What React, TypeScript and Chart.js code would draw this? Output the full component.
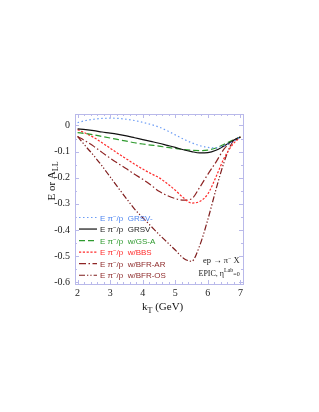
import React, { useEffect, useRef } from "react";
import { Chart, registerables } from "chart.js";
Chart.register(...registerables);

const kT = [2, 2.25, 2.5, 2.75, 3, 3.25, 3.5, 3.75, 4, 4.25, 4.5, 4.75, 5, 5.25, 5.5, 5.75, 6, 6.25, 6.5, 6.75, 7];
const grsvMinus = [0.011, 0.019, 0.024, 0.027, 0.028, 0.027, 0.024, 0.019, 0.012, 0.004, -0.006, -0.02, -0.036, -0.052, -0.066, -0.077, -0.084, -0.086, -0.078, -0.063, -0.044];
const grsv = [-0.013, -0.016, -0.02, -0.025, -0.029, -0.034, -0.04, -0.047, -0.054, -0.061, -0.068, -0.076, -0.084, -0.093, -0.1, -0.105, -0.104, -0.095, -0.078, -0.06, -0.044];
const gsA = [-0.027, -0.031, -0.036, -0.042, -0.048, -0.054, -0.06, -0.066, -0.071, -0.075, -0.079, -0.084, -0.088, -0.092, -0.095, -0.096, -0.094, -0.086, -0.072, -0.057, -0.044];
const bbs = [-0.016, -0.03, -0.046, -0.066, -0.087, -0.108, -0.128, -0.148, -0.167, -0.184, -0.2, -0.222, -0.248, -0.277, -0.297, -0.291, -0.262, -0.197, -0.125, -0.075, -0.044];
const bfrAR = [-0.042, -0.06, -0.08, -0.103, -0.125, -0.146, -0.166, -0.187, -0.206, -0.228, -0.252, -0.268, -0.28, -0.286, -0.281, -0.237, -0.187, -0.14, -0.09, -0.06, -0.044];
const bfrOS = [-0.042, -0.08, -0.116, -0.155, -0.197, -0.239, -0.28, -0.32, -0.353, -0.385, -0.417, -0.447, -0.477, -0.508, -0.52, -0.46, -0.36, -0.245, -0.14, -0.065, -0.044];

const seriesNames = ["GRSV-", "GRSV", "w/GS-A", "w/BBS", "w/BFR-AR", "w/BFR-OS"];
const seriesValues = [grsvMinus, grsv, gsA, bbs, bfrAR, bfrOS];
const seriesColors = ["#6b9cf5", "#111111", "#2e9a2e", "#ff2b2b", "#8e2424", "#7e1c1c"];
const legendTextColors = ["#4f86f0", "#222222", "#2e9a2e", "#ff2b2b", "#8e2a2a", "#8e2a2a"];
const seriesDashes = [[1.5, 2.5], [], [6, 3], [2.2, 1.6], [7, 2.5, 1.5, 2.5], [6, 2, 1.3, 2, 1.3, 2]];

const xTicks = [2, 3, 4, 5, 6, 7];
const yTicks = [0, -0.1, -0.2, -0.3, -0.4, -0.5, -0.6];

const FRAME = "#b9b9ea";

const decorPlugin = {
  id: "decor",
  afterDraw(chart: any) {
    const ctx = chart.ctx;
    const { left, right, top, bottom } = chart.chartArea;
    const xs = chart.scales.x;
    const ys = chart.scales.y;
    ctx.save();
    // frame
    ctx.strokeStyle = FRAME;
    ctx.lineWidth = 1;
    ctx.strokeRect(Math.round(left) + 0.5, Math.round(top) + 0.5, Math.round(right - left), Math.round(bottom - top));
    // ticks
    ctx.beginPath();
    for (let i = 0; i <= 25; i++) {
      const v = 2 + i * 0.2;
      const px = Math.round(xs.getPixelForValue(v)) + 0.5;
      const len = i % 5 === 0 ? 4 : 2;
      ctx.moveTo(px, bottom);
      ctx.lineTo(px, bottom - len);
      ctx.moveTo(px, top);
      ctx.lineTo(px, top + len);
    }
    for (let i = 0; i <= 12; i++) {
      const v = -0.6 + i * 0.05;
      const py = Math.round(ys.getPixelForValue(v)) + 0.5;
      const len = i % 2 === 0 ? 4 : 2;
      ctx.moveTo(left, py);
      ctx.lineTo(left + len, py);
      ctx.moveTo(right, py);
      ctx.lineTo(right - len, py);
    }
    ctx.stroke();

    // legend
    const ds = chart.data.datasets;
    for (let i = 0; i < ds.length; i++) {
      const y = 217.5 + i * 11.55;
      ctx.beginPath();
      ctx.strokeStyle = ds[i].borderColor;
      ctx.lineWidth = ds[i].borderWidth;
      ctx.setLineDash(ds[i].borderDash || []);
      ctx.moveTo(79, y);
      ctx.lineTo(97, y);
      ctx.stroke();
      ctx.setLineDash([]);
      ctx.fillStyle = legendTextColors[i];
      ctx.textBaseline = "alphabetic";
      ctx.textAlign = "left";
      let x = 100;
      ctx.font = "8px 'Liberation Sans', Arial, sans-serif";
      const a = "E \u03c0";
      ctx.fillText(a, x, y + 3);
      x += ctx.measureText(a).width;
      ctx.font = "6px 'Liberation Sans', Arial, sans-serif";
      ctx.fillText("\u2212", x, y);
      x += ctx.measureText("\u2212").width;
      ctx.font = "8px 'Liberation Sans', Arial, sans-serif";
      ctx.fillText("/p  " + seriesNames[i], x, y + 3);
    }

    // annotations
    ctx.fillStyle = "#222";
    ctx.font = "8.5px 'Liberation Serif', 'Times New Roman', serif";
    let x = 203;
    const s1 = "ep \u2192 \u03c0";
    ctx.fillText(s1, x, 263);
    x += ctx.measureText(s1).width;
    ctx.font = "6px 'Liberation Serif', serif";
    ctx.fillText("\u2212", x, 259.5);
    x += ctx.measureText("\u2212").width;
    ctx.font = "8.5px 'Liberation Serif', 'Times New Roman', serif";
    ctx.fillText(" X", x, 263);

    x = 198.5;
    const s2 = "EPIC, \u03b7";
    ctx.font = "8px 'Liberation Serif', 'Times New Roman', serif";
    ctx.fillText(s2, x, 276);
    x += ctx.measureText(s2).width;
    ctx.font = "6px 'Liberation Serif', serif";
    ctx.fillText("Lab", x, 272);
    x += ctx.measureText("Lab").width;
    ctx.fillText("=0", x, 276);

    // x title
    ctx.fillStyle = "#111";
    x = 142;
    ctx.font = "11px 'Liberation Serif', 'Times New Roman', serif";
    ctx.fillText("k", x, 310);
    x += ctx.measureText("k").width;
    ctx.font = "8px 'Liberation Serif', serif";
    ctx.fillText("T", x, 313);
    x += ctx.measureText("T").width;
    ctx.font = "11px 'Liberation Serif', 'Times New Roman', serif";
    ctx.fillText(" (GeV)", x, 310);

    // y title
    ctx.save();
    ctx.translate(55, 181);
    ctx.rotate(-Math.PI / 2);
    ctx.font = "11px 'Liberation Serif', 'Times New Roman', serif";
    const t1 = "E or A";
    const w1 = ctx.measureText(t1).width;
    ctx.font = "8px 'Liberation Serif', serif";
    const w2 = ctx.measureText("LL").width;
    let tx = -(w1 + w2) / 2;
    ctx.font = "11px 'Liberation Serif', 'Times New Roman', serif";
    ctx.fillText(t1, tx, 0);
    tx += w1;
    ctx.font = "8px 'Liberation Serif', serif";
    ctx.fillText("LL", tx, 3);
    ctx.restore();

    ctx.restore();
  },
};

export default function App() {
  const ref = useRef<HTMLCanvasElement>(null);
  useEffect(() => {
    if (!ref.current) return;
    const chart = new Chart(ref.current, {
      type: "line",
      data: {
        datasets: seriesNames.map((name, i) => ({
          label: name,
          data: kT.map((k, j) => ({ x: k, y: seriesValues[i][j] })),
          borderColor: seriesColors[i],
          borderWidth: 1.2,
          borderDash: seriesDashes[i],
          pointRadius: 0,
          fill: false,
          cubicInterpolationMode: "monotone" as const,
        })),
      },
      options: {
        responsive: false,
        animation: false,
        devicePixelRatio: 1,
        layout: { padding: { left: 0, top: 114, right: 76, bottom: 0 } },
        plugins: { legend: { display: false }, tooltip: { enabled: false } },
        scales: {
          x: {
            type: "linear",
            min: 1.92,
            max: 7.08,
            grid: { display: false, drawTicks: false },
            border: { display: false },
            afterBuildTicks: (s: any) => {
              s.ticks = xTicks.map((v) => ({ value: v }));
            },
            afterFit: (s: any) => {
              s.height = 128;
            },
            ticks: {
              padding: 3,
              color: "#222",
              font: { family: "'Liberation Serif', 'Times New Roman', serif", size: 10 },
              callback: (v: any) => String(v),
              maxRotation: 0,
            },
          },
          y: {
            type: "linear",
            min: -0.607,
            max: 0.044,
            grid: { display: false, drawTicks: false },
            border: { display: false },
            afterBuildTicks: (s: any) => {
              s.ticks = yTicks.map((v) => ({ value: v }));
            },
            afterFit: (s: any) => {
              s.width = 75;
            },
            ticks: {
              padding: 5,
              color: "#222",
              font: { family: "'Liberation Serif', 'Times New Roman', serif", size: 10 },
              callback: (v: any) => (Math.abs(v) < 1e-9 ? "0" : Number(v).toFixed(1)),
            },
          },
        },
      },
      plugins: [decorPlugin],
    });
    return () => chart.destroy();
  }, []);
  return (
    <div style={{ position: "absolute", left: 0, top: 0, width: 319, height: 412, background: "#fff" }}>
      <canvas ref={ref} width={319} height={412} style={{ width: 319, height: 412 }} />
    </div>
  );
}
